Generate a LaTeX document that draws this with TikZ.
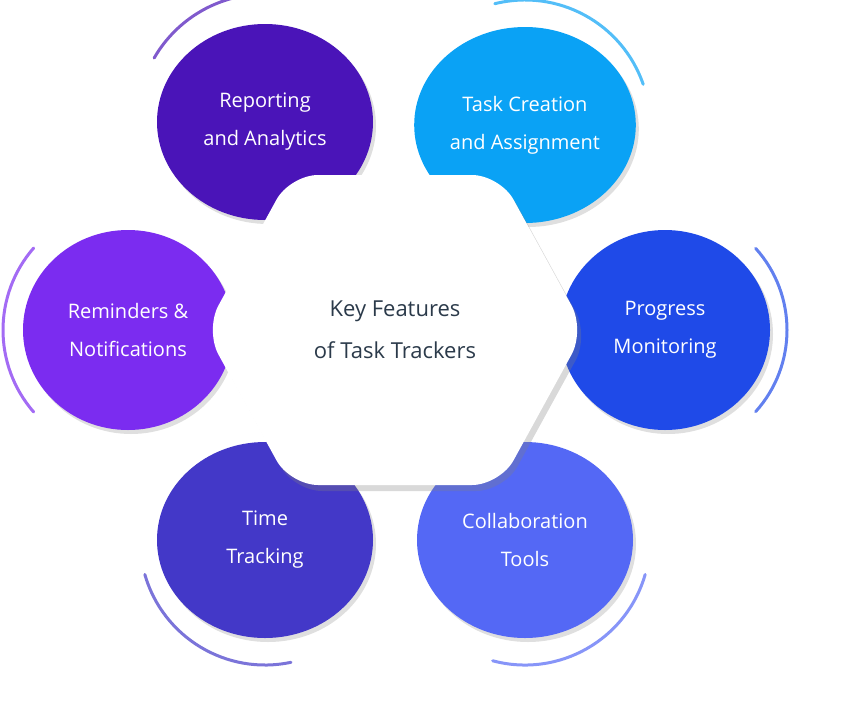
\documentclass[tikz,border=0pt]{standalone}
\usepackage{fontspec}
\setmainfont{Open Sans}
\usetikzlibrary{shadows,shapes.geometric}
\definecolor{cRep}{HTML}{4A14B8}
\definecolor{cTask}{HTML}{0AA2F5}
\definecolor{cRem}{HTML}{7B2CF0}
\definecolor{cProg}{HTML}{1F4AE8}
\definecolor{cTime}{HTML}{4338C8}
\definecolor{cCol}{HTML}{5468F5}
\definecolor{cTxt}{HTML}{2B3A4A}
\tikzset{
  feat/.style={ellipse,minimum width=216pt,minimum height=196pt,fill=#1,text=white,align=center,
    font=\fontsize{20}{38}\selectfont,drop shadow={opacity=0.25,shadow xshift=3pt,shadow yshift=-4pt}},
  deco/.style={line width=3pt,line cap=round,draw=#1!70}
}
\begin{document}
\begin{tikzpicture}[x=1pt,y=-1pt]
\useasboundingbox (0,0) rectangle (850,715);
\node[feat=cRep]  (rep)  at (265,122) {Reporting\\and Analytics};
\node[feat=cTask] (task) at (525,125) {Task Creation\\and Assignment};
\node[feat=cRem,minimum width=210pt,minimum height=200pt]  (rem)  at (128,330) {Reminders \&\\Notifications};
\node[feat=cProg,minimum width=210pt,minimum height=200pt] (prog) at (665,330) {Progress\\Monitoring};
\node[feat=cTime] (time) at (265,540) {Time\\Tracking};
\node[feat=cCol]  (col)  at (525,540) {Collaboration\\Tools};
\draw[deco=cRep]  ([shift={(210:128)}]rep.center) arc[start angle=210,end angle=284,radius=128];
\draw[deco=cTask] ([shift={(256:125)}]task.center) arc[start angle=256,end angle=341,radius=125];
\draw[deco=cRem]  ([shift={(139:125)}]rem.center) arc[start angle=139,end angle=221,radius=125];
\draw[deco=cProg] ([shift={(-42:122)}]prog.center) arc[start angle=-42,end angle=42,radius=122];
\draw[deco=cTime] ([shift={(78:125)}]time.center) arc[start angle=78,end angle=164,radius=125];
\draw[deco=cCol]  ([shift={(16:125)}]col.center) arc[start angle=16,end angle=105,radius=125];
\fill[white,rounded corners=28pt,drop shadow={opacity=0.3,shadow xshift=4pt,shadow yshift=-6pt}]
  (205,330) -- (290,175) -- (500,175) -- (585,330) -- (500,485) -- (290,485) -- cycle;
\node[text=cTxt,align=center,font=\fontsize{22}{42}\selectfont] (hex) at (395,330) {Key Features\\of Task Trackers};
\end{tikzpicture}
\end{document}
